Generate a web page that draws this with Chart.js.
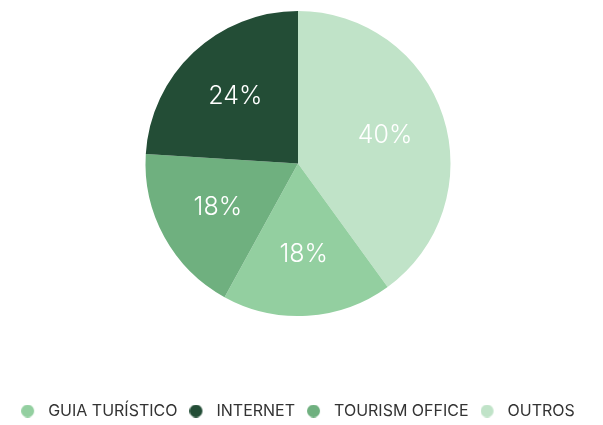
<!DOCTYPE html>
<html>
<head>
<meta charset="utf-8">
<script src="https://cdn.jsdelivr.net/npm/chart.js@4/dist/chart.umd.min.js"></script>
<style>
  html, body { margin: 0; padding: 0; background: #fff; }
  #wrap { width: 603px; height: 425px; position: relative; }
</style>
</head>
<body>
<div id="wrap"><canvas id="sourceChart"></canvas></div>
<script>
// Slices, in drawing order (clockwise from 12 o'clock)
const categories = ['OUTROS', 'GUIA TURÍSTICO', 'TOURISM OFFICE', 'INTERNET'];
const shares = [40, 18, 18, 24];
const sliceColors = ['#c0e3c8', '#93cfa0', '#6fb07f', '#234d36'];
// Order the legend lists them in
const legendOrder = ['GUIA TURÍSTICO', 'INTERNET', 'TOURISM OFFICE', 'OUTROS'];

// Legend marker: 13px dot sitting at the left of a wider box,
// so the label text gets some room after it
const DOT_BOX = 19;
function legendDot(color) {
    const c = document.createElement('canvas');
    c.width = DOT_BOX;
    c.height = 13;
    const g = c.getContext('2d');
    g.fillStyle = color;
    g.beginPath();
    g.arc(6.5, 6.5, 6.5, 0, Math.PI * 2);
    g.fill();
    return c;
}

// Writes the percentage inside each slice
const sliceLabels = {
    id: 'sliceLabels',
    afterDatasetsDraw(chart) {
        const ctx = chart.ctx;
        const meta = chart.getDatasetMeta(0);
        ctx.save();
        ctx.fillStyle = '#ffffff';
        ctx.font = '300 25px Inter, sans-serif';
        ctx.textAlign = 'center';
        ctx.textBaseline = 'middle';
        meta.data.forEach((arc, i) => {
            const mid = (arc.startAngle + arc.endAngle) / 2;
            const r = arc.outerRadius * 0.6;
            const x = arc.x + Math.cos(mid) * r;
            const y = arc.y + Math.sin(mid) * r;
            ctx.fillText(shares[i] + '%', x, y);
        });
        ctx.restore();
    }
};

new Chart(document.getElementById('sourceChart'), {
    type: 'pie',
    data: {
        labels: categories,
        datasets: [{
            data: shares,
            backgroundColor: sliceColors,
            borderWidth: 0
        }]
    },
    options: {
        responsive: true,
        maintainAspectRatio: false,
        animation: false,
        layout: {
            padding: { top: 11, bottom: 0, right: 7 }
        },
        plugins: {
            tooltip: { enabled: false },
            legend: {
                position: 'bottom',
                maxHeight: 109,
                // empty title just opens a gap above the legend row
                title: {
                    display: true,
                    text: '',
                    font: { size: 10, lineHeight: 1 },
                    padding: { top: 65, bottom: 0 }
                },
                labels: {
                    usePointStyle: true,
                    pointStyleWidth: DOT_BOX,
                    boxHeight: 13,
                    padding: 12,
                    color: '#333333',
                    font: { family: 'Inter, sans-serif', size: 16 },
                    generateLabels(chart) {
                        const items = Chart.overrides.doughnut.plugins.legend.labels.generateLabels(chart);
                        items.forEach(item => { item.pointStyle = legendDot(item.fillStyle); });
                        return items;
                    },
                    sort: (a, b) => legendOrder.indexOf(a.text) - legendOrder.indexOf(b.text)
                }
            }
        }
    },
    plugins: [sliceLabels]
});
</script>
</body>
</html>
